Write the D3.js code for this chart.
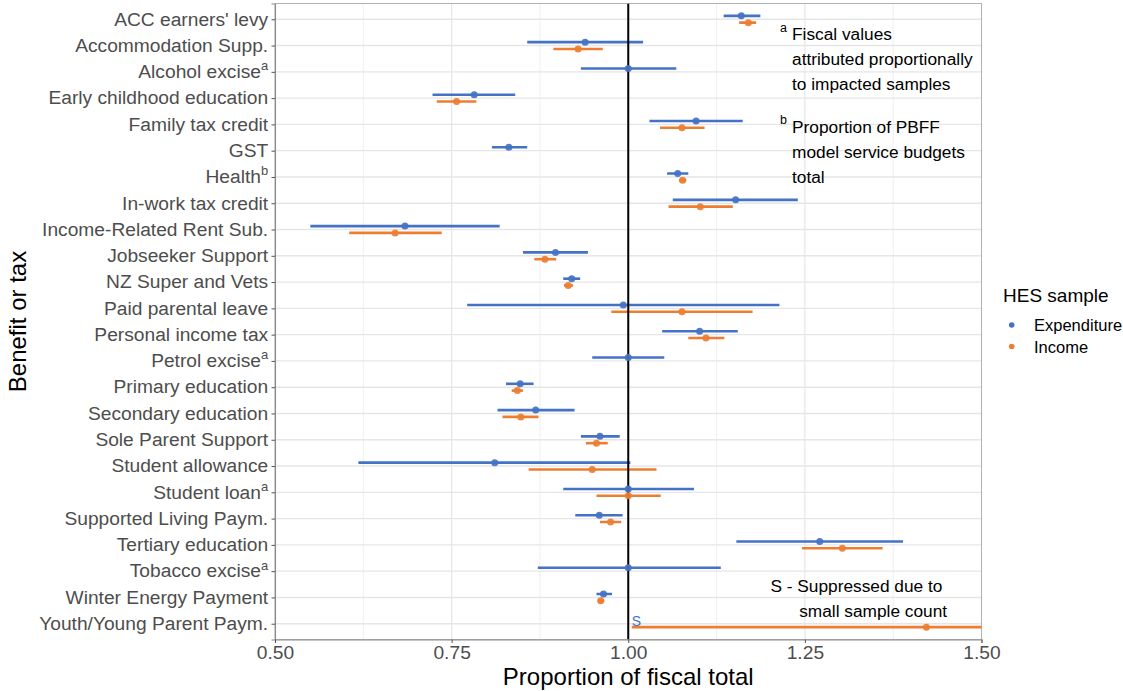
<!DOCTYPE html>
<html>
<head>
<meta charset="utf-8">
<script src="https://cdn.jsdelivr.net/npm/d3@7"></script>
<style>
  html, body { margin: 0; padding: 0; background: #ffffff; }
  svg { display: block; font-family: "Liberation Sans", Arial, sans-serif; }
</style>
</head>
<body>
<svg id="chart" width="1123" height="691"></svg>
<script>
// Benefit / tax categories (top to bottom) and their footnote markers
const categories = [
  "ACC earners' levy", "Accommodation Supp.", "Alcohol excise", "Early childhood education",
  "Family tax credit", "GST", "Health", "In-work tax credit", "Income-Related Rent Sub.",
  "Jobseeker Support", "NZ Super and Vets", "Paid parental leave", "Personal income tax",
  "Petrol excise", "Primary education", "Secondary education", "Sole Parent Support",
  "Student allowance", "Student loan", "Supported Living Paym.", "Tertiary education",
  "Tobacco excise", "Winter Energy Payment", "Youth/Young Parent Paym."
];
const footnotes = ["", "", "a", "", "", "", "b", "", "", "", "", "", "", "a", "", "", "", "", "a", "", "", "a", "", ""];

// Expenditure sample: estimate and interval (null = no estimate)
const expEstimate = [1.160, 0.939, 1.000, 0.782, 1.096, 0.831, 1.070, 1.152, 0.684, 0.897, 0.920, 0.993,
                     1.101, 1.000, 0.847, 0.869, 0.960, 0.811, 1.000, 0.959, 1.271, 1.000, 0.965, null];
const expLower    = [1.135, 0.857, 0.933, 0.723, 1.030, 0.807, 1.055, 1.063, 0.550, 0.851, 0.908, 0.772,
                     1.048, 0.949, 0.827, 0.815, 0.933, 0.618, 0.908, 0.925, 1.153, 0.872, 0.955, null];
const expUpper    = [1.187, 1.021, 1.068, 0.840, 1.162, 0.857, 1.085, 1.240, 0.818, 0.943, 0.932, 1.214,
                     1.155, 1.051, 0.866, 0.924, 0.988, 1.003, 1.093, 0.992, 1.389, 1.131, 0.977, null];

// Income sample: estimate and interval
const incEstimate = [1.170, 0.929, null, 0.757, 1.076, null, 1.077, 1.102, 0.670, 0.882, 0.915, 1.076,
                     1.110, null, 0.843, 0.848, 0.955, 0.949, 1.000, 0.975, 1.303, null, 0.961, 1.422];
const incLower    = [1.157, 0.894, null, 0.729, 1.045, null, 1.072, 1.057, 0.605, 0.867, 0.909, 0.976,
                     1.085, null, 0.835, 0.822, 0.940, 0.859, 0.955, 0.960, 1.246, null, 0.957, 1.005];
const incUpper    = [1.181, 0.964, null, 0.785, 1.108, null, 1.082, 1.148, 0.736, 0.898, 0.922, 1.176,
                     1.136, null, 0.851, 0.873, 0.971, 1.040, 1.046, 0.990, 1.360, null, 0.966, 1.839];

const seriesNames = ["Expenditure", "Income"];
const seriesColors = ["#4472C4", "#ED7D31"];
const xTicks = [0.50, 0.75, 1.00, 1.25, 1.50];
const xMinorTicks = [0.625, 0.875, 1.125, 1.375];
const suppressed = [{ category: "Youth/Young Parent Paym.", series: "Expenditure", at: 1.005, label: "S" }];

const noteA = ["Fiscal values", "attributed proportionally", "to impacted samples"];
const noteB = ["Proportion of PBFF", "model service budgets", "total"];
const noteS = ["S - Suppressed due to", "small sample count"];

// ---- layout ----
const svg = d3.select("#chart");
const panel = { left: 275, right: 981.5, top: 3.5, bottom: 639.5 };
const textGrey = "#4d4d4d";

const x = d3.scaleLinear().domain([0.5, 1.5]).range([panel.left, panel.right]);
const y = d3.scalePoint().domain(categories).range([panel.top, panel.bottom]).padding(0.6);
const dodge = d3.scalePoint().domain(seriesNames).range([-3.4, 3.4]);
const colour = d3.scaleOrdinal().domain(seriesNames).range(seriesColors);

// tidy rows for drawing
const rows = [];
categories.forEach((c, i) => {
  if (expEstimate[i] !== null) rows.push({ category: c, series: "Expenditure", est: expEstimate[i], lo: expLower[i], hi: expUpper[i] });
  if (incEstimate[i] !== null) rows.push({ category: c, series: "Income", est: incEstimate[i], lo: incLower[i], hi: incUpper[i] });
});
const yPos = d => y(d.category) + dodge(d.series);

// clip for the plotting panel
svg.append("defs").append("clipPath").attr("id", "panel-clip")
  .append("rect")
  .attr("x", panel.left).attr("y", panel.top)
  .attr("width", panel.right - panel.left).attr("height", panel.bottom - panel.top);

// grid
const grid = svg.append("g");
grid.selectAll("line.minor").data(xMinorTicks).join("line")
  .attr("x1", d => x(d)).attr("x2", d => x(d))
  .attr("y1", panel.top).attr("y2", panel.bottom)
  .attr("stroke", "#ececec").attr("stroke-width", 0.8);
grid.selectAll("line.majorx").data(xTicks).join("line")
  .attr("x1", d => x(d)).attr("x2", d => x(d))
  .attr("y1", panel.top).attr("y2", panel.bottom)
  .attr("stroke", "#e6e6e6").attr("stroke-width", 1.2);
grid.selectAll("line.majory").data(categories).join("line")
  .attr("x1", panel.left).attr("x2", panel.right)
  .attr("y1", d => y(d)).attr("y2", d => y(d))
  .attr("stroke", "#e6e6e6").attr("stroke-width", 1.4);

// panel border
svg.append("rect")
  .attr("x", panel.left).attr("y", panel.top)
  .attr("width", panel.right - panel.left).attr("height", panel.bottom - panel.top)
  .attr("fill", "none").attr("stroke", "#b3b3b3").attr("stroke-width", 1);

// marks
const plot = svg.append("g").attr("clip-path", "url(#panel-clip)");
plot.selectAll("line.err").data(rows).join("line")
  .attr("x1", d => x(d.lo)).attr("x2", d => x(d.hi))
  .attr("y1", yPos).attr("y2", yPos)
  .attr("stroke", d => colour(d.series)).attr("stroke-width", 2.6);

// reference line at the fiscal total
plot.append("line")
  .attr("x1", x(1)).attr("x2", x(1))
  .attr("y1", panel.top).attr("y2", panel.bottom)
  .attr("stroke", "#000").attr("stroke-width", 2);

plot.selectAll("circle.est").data(rows).join("circle")
  .attr("cx", d => x(d.est)).attr("cy", yPos).attr("r", 3.5)
  .attr("fill", d => colour(d.series)).attr("fill-opacity", 0.92);

// suppressed marker
svg.selectAll("text.supp").data(suppressed).join("text")
  .attr("x", d => x(d.at)).attr("y", d => y(d.category) + 2)
  .attr("fill", d => colour(d.series))
  .attr("font-size", 14)
  .text(d => d.label);

// axes
const yAxis = svg.append("g").attr("transform", `translate(${panel.left},0)`)
  .call(d3.axisLeft(y).tickSize(3.5).tickPadding(3.3));
yAxis.select(".domain").attr("stroke", "#8c8c8c").attr("stroke-width", 1.1);
yAxis.selectAll(".tick line").attr("stroke", "#555").attr("stroke-width", 1);
yAxis.selectAll(".tick text")
  .attr("fill", textGrey).attr("font-size", 19.2).attr("font-family", null).attr("dy", "0.3em")
  .each(function (d) {
    const i = categories.indexOf(d);
    const t = d3.select(this).text(d);
    if (footnotes[i]) {
      t.append("tspan").attr("font-size", 13).attr("dy", "-0.6em").text(footnotes[i]);
    }
  });

const xAxis = svg.append("g").attr("transform", `translate(0,${panel.bottom})`)
  .call(d3.axisBottom(x).tickValues(xTicks).tickFormat(d3.format(".2f")).tickSize(3.5).tickPadding(3));
xAxis.select(".domain").attr("stroke", "#8c8c8c").attr("stroke-width", 1.1);
xAxis.selectAll(".tick line").attr("stroke", "#555").attr("stroke-width", 1);
xAxis.selectAll(".tick text").attr("fill", textGrey).attr("font-size", 19.2).attr("font-family", null)
  .attr("dy", null).attr("y", 19.5);

// axis titles
svg.append("text")
  .attr("x", (panel.left + panel.right) / 2).attr("y", 685)
  .attr("text-anchor", "middle").attr("font-size", 24).attr("fill", "#000")
  .text("Proportion of fiscal total");
svg.append("text")
  .attr("transform", `translate(26,${(panel.top + panel.bottom) / 2}) rotate(-90)`)
  .attr("text-anchor", "middle").attr("font-size", 24).attr("fill", "#000")
  .text("Benefit or tax");

// footnote annotations
function note(lines, x0, y0, marker) {
  const g = svg.append("g");
  if (marker) {
    g.append("text").attr("x", x0 - 12).attr("y", y0 - 8.5)
      .attr("font-size", 12.5).attr("fill", "#000").text(marker);
  }
  lines.forEach((l, k) => {
    g.append("text").attr("x", x0).attr("y", y0 + k * 25)
      .attr("font-size", 17.3).attr("fill", "#000").text(l);
  });
}
note(noteA, x(1.2318), 40, "a");
note(noteB, x(1.2318), 132.5, "b");
svg.append("text").attr("x", x(1.2013)).attr("y", 591.5)
  .attr("font-size", 17.3).attr("fill", "#000").text(noteS[0]);
svg.append("text").attr("x", x(1.2420)).attr("y", 616.5)
  .attr("font-size", 17.3).attr("fill", "#000").text(noteS[1]);

// legend
const legend = svg.append("g").attr("transform", "translate(1003,0)");
legend.append("text").attr("x", 0).attr("y", 302)
  .attr("font-size", 19).attr("fill", "#000").text("HES sample");
seriesNames.forEach((s, k) => {
  const cy = 325 + k * 21.5;
  legend.append("circle").attr("cx", 8.7).attr("cy", cy).attr("r", 2.8).attr("fill", colour(s));
  legend.append("text").attr("x", 31).attr("y", cy + 6)
    .attr("font-size", 16.5).attr("fill", "#000").text(s);
});
</script>
</body>
</html>
